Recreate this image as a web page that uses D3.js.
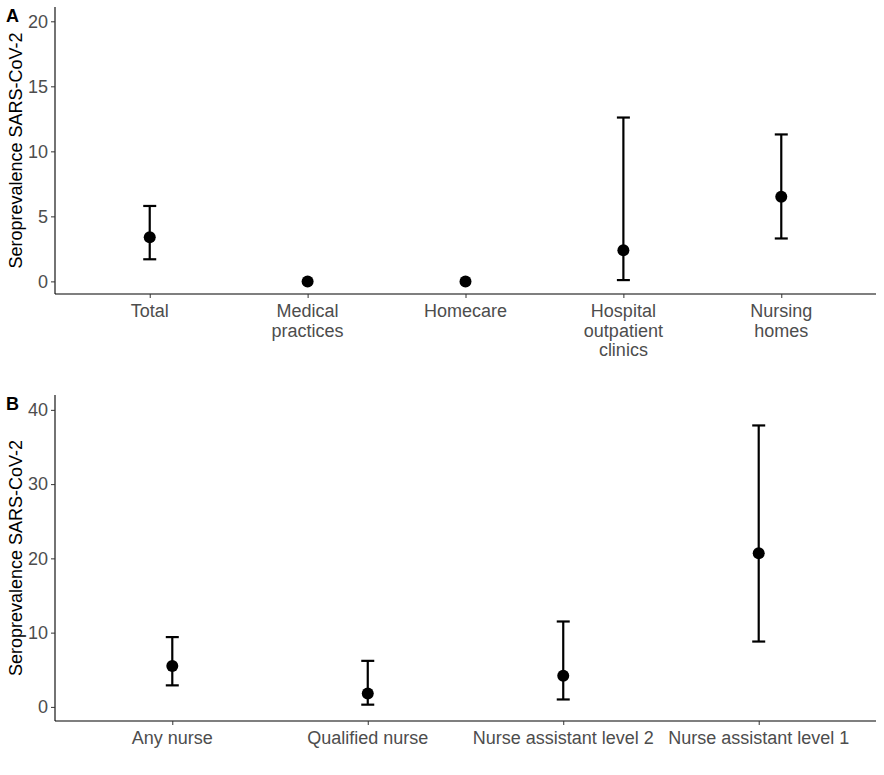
<!DOCTYPE html>
<html>
<head>
<meta charset="utf-8">
<script src="https://cdn.jsdelivr.net/npm/d3@7"></script>
<style>
body { margin: 0; background: #fff; }
text { font-family: "Liberation Sans", Arial, sans-serif; }
</style>
</head>
<body>
<script>
// Panel A: by sector
var sectorLabels = [["Total"], ["Medical", "practices"], ["Homecare"], ["Hospital", "outpatient", "clinics"], ["Nursing", "homes"]];
var sectorEst   = [3.4, 0, 0, 2.4, 6.5];
var sectorLow   = [1.7, null, null, 0.1, 3.3];
var sectorHigh  = [5.8, null, null, 12.6, 11.3];
var sectorTicks = [0, 5, 10, 15, 20];

// Panel B: by nursing profession
var nurseLabels = [["Any nurse"], ["Qualified nurse"], ["Nurse assistant level 2"], ["Nurse assistant level 1"]];
var nurseEst   = [5.5, 1.8, 4.2, 20.7];
var nurseLow   = [2.9, 0.3, 1.0, 8.8];
var nurseHigh  = [9.4, 6.2, 11.5, 37.9];
var nurseTicks = [0, 10, 20, 30, 40];

var yTitle = "Seroprevalence SARS-CoV-2";

var svg = d3.select("body").append("svg")
    .attr("width", 884)
    .attr("height", 775);

function panel(tag, top, bottom, labels, est, low, high, ticks, yDom)
{
    var left = 55, right = 876;
    var n = labels.length;

    // discrete scale like ggplot: 0.6 expansion each side
    var x = d3.scaleLinear().domain([0.4, n + 0.6]).range([left, right]);
    var y = d3.scaleLinear().domain(yDom).range([bottom, top]);

    var g = svg.append("g");

    var yAxis = d3.axisLeft(y).tickValues(ticks).tickSize(4).tickPadding(3);
    var ga = g.append("g").attr("transform", "translate(" + left + ",0)").call(yAxis);
    ga.select(".domain").attr("stroke", "#000").attr("stroke-width", 1.1)
      .attr("d", "M0," + top + "V" + bottom);
    ga.selectAll(".tick line").attr("stroke", "#333");
    ga.selectAll(".tick text").attr("fill", "#4d4d4d").style("font-size", "18px");

    var xAxis = d3.axisBottom(x).tickValues(d3.range(1, n + 1)).tickSize(4).tickFormat("");
    var gx = g.append("g").attr("transform", "translate(0," + bottom + ")").call(xAxis);
    gx.select(".domain").attr("stroke", "#000").attr("stroke-width", 1.1)
      .attr("d", "M" + left + ",0H" + right);
    gx.selectAll(".tick line").attr("stroke", "#333");

    // multi-line category labels
    for (i = 0; i < n; i++)
    {
        var t = g.append("text")
            .attr("x", x(i + 1))
            .attr("y", bottom + 23)
            .attr("text-anchor", "middle")
            .attr("fill", "#4d4d4d")
            .style("font-size", "18px");
        for (j = 0; j < labels[i].length; j++)
        {
            t.append("tspan")
                .attr("x", x(i + 1))
                .attr("dy", j == 0 ? 0 : 19.5)
                .text(labels[i][j]);
        }
    }

    // y title
    g.append("text")
        .attr("transform", "translate(22," + ((top + bottom) / 2) + ") rotate(-90)")
        .attr("text-anchor", "middle")
        .attr("fill", "#000")
        .style("font-size", "18px")
        .text(yTitle);

    // tag
    g.append("text")
        .attr("x", 6)
        .attr("y", top + 15)
        .attr("fill", "#000")
        .style("font-size", "18px")
        .style("font-weight", "bold")
        .text(tag);

    // error bars
    var cap = 6.5;
    for (i = 0; i < n; i++)
    {
        if (low[i] == null) continue;
        var cx = x(i + 1);
        g.append("line").attr("x1", cx).attr("x2", cx)
            .attr("y1", y(low[i])).attr("y2", y(high[i]))
            .attr("stroke", "#000").attr("stroke-width", 2.2);
        g.append("line").attr("x1", cx - cap).attr("x2", cx + cap)
            .attr("y1", y(low[i])).attr("y2", y(low[i]))
            .attr("stroke", "#000").attr("stroke-width", 2.2);
        g.append("line").attr("x1", cx - cap).attr("x2", cx + cap)
            .attr("y1", y(high[i])).attr("y2", y(high[i]))
            .attr("stroke", "#000").attr("stroke-width", 2.2);
    }

    g.selectAll("circle.pt").data(est).enter().append("circle")
        .attr("class", "pt")
        .attr("cx", function(d, i) { return x(i + 1); })
        .attr("cy", function(d) { return y(d); })
        .attr("r", 6)
        .attr("fill", "#000");
}

panel("A", 7, 294, sectorLabels, sectorEst, sectorLow, sectorHigh, sectorTicks, [-0.97, 21.1]);
panel("B", 395, 721, nurseLabels, nurseEst, nurseLow, nurseHigh, nurseTicks, [-1.9, 42.0]);
</script>
</body>
</html>
